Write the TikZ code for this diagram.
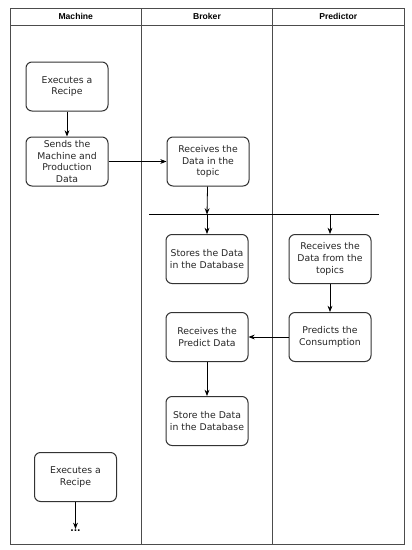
\documentclass[tikz,border=0pt]{standalone}
\usepackage{fontspec}
\setsansfont{DejaVu Sans}
\newfontfamily\headfont{Liberation Sans}
\usetikzlibrary{arrows.meta,positioning}
\definecolor{lanegray}{rgb}{0.30,0.30,0.30}
\definecolor{boxgray}{rgb}{0.20,0.20,0.20}
\tikzset{
  tarea/.style={
    rounded corners=6pt,
    draw=boxgray,
    line width=1pt,
    fill=white,
    align=center,
    minimum width=82pt,
    minimum height=49pt,
    inner sep=2pt,
    text=black!85,
    font=\sffamily\fontsize{9.3}{11.7}\selectfont
  },
  carril/.style={
    draw=lanegray,
    line width=0.9pt
  },
  cabecera/.style={
    font=\headfont\bfseries\fontsize{8.6}{10}\selectfont
  },
  barra/.style={
    line width=1.2pt,
    black
  },
  arrow/.style={
    -{Stealth[length=2.2mm,width=1.7mm]},
    line width=0.8pt,
    black
  }
}
\begin{document}
\begin{tikzpicture}[x=1pt,y=-1pt]
\useasboundingbox (0,0) rectangle (412,550);
% carriles
\draw[carril] (10,8) rectangle (404,544);
\draw[carril] (10,25) -- (404,25);
\draw[carril] (141.5,8) -- (141.5,544);
\draw[carril] (272.5,8) -- (272.5,544);
\node[cabecera] (hmach) at (75.75,16.5) {Machine};
\node[cabecera] (hbrok) at (207,16.5) {Broker};
\node[cabecera] (hpred) at (338.25,16.5) {Predictor};
% maquina
\node[tarea] (exec) at (67,86.5) {Executes a\\Recipe};
\node[tarea,below=25pt of exec] (send) {Sends the\\Machine and\\Production\\Data};
\node[tarea] (exec2) at (75.5,477) {Executes a\\Recipe};
\node[inner sep=1pt,font=\sffamily\bfseries\small] (dots) at (75.5,531) {...};
% broker
\node[tarea,right=58pt of send] (recv) {Receives the\\Data in the\\topic};
\node[tarea] (store) at (207,259) {Stores the Data\\in the Database};
\node[tarea] (recvp) at (207,337) {Receives the\\Predict Data};
\node[tarea,below=34pt of recvp] (storep) {Store the Data\\in the Database};
% predictor
\node[tarea] (topics) at (330,259) {Receives the\\Data from the\\topics};
\node[tarea] (predict) at (330,337) {Predicts the\\Consumption};
% barra de sincronizacion
\coordinate (barL) at (149,214.5);
\coordinate (barR) at (379,214.5);
\coordinate (barA) at (207,214.5);
\coordinate (barB) at (330,214.5);
\draw[barra] (barL) -- (barR);
% flechas
\draw[arrow] (exec) -- (send);
\draw[arrow] (send) -- (recv);
\draw[arrow] (recv) -- (barA);
\draw[arrow] (barA) -- (store);
\draw[arrow] (barB) -- (topics);
\draw[arrow] (topics) -- (predict);
\draw[arrow] (predict) -- (recvp);
\draw[arrow] (recvp) -- (storep);
\draw[arrow] (exec2) -- (dots);
\end{tikzpicture}
\end{document}
